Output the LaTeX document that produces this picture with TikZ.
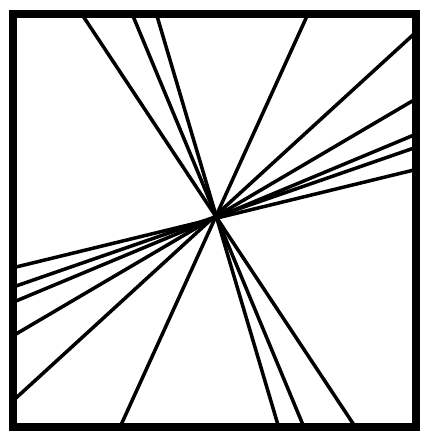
\documentclass[tikz,border=0pt]{standalone}
\usetikzlibrary{positioning}

\begin{document}
\begin{tikzpicture}[x=0.02cm, y=-0.02cm,
    frame/.style={draw=black, line width=5pt, line join=miter},
    ray/.style={draw=black, line width=2pt}]
  \useasboundingbox (0,0) rectangle (422,432);

  % end points on the frame
  \coordinate (t1) at (83,16);
  \coordinate (t2) at (133,16);
  \coordinate (t3) at (157,16);
  \coordinate (t4) at (307,16);
  \coordinate (b1) at (354,425);
  \coordinate (b2) at (303,425);
  \coordinate (b3) at (278,425);
  \coordinate (b4) at (121,425);
  \coordinate (r1) at (414,34);
  \coordinate (r2) at (414,100);
  \coordinate (r3) at (414,135);
  \coordinate (r4) at (414,148);
  \coordinate (r5) at (414,170);
  \coordinate (l1) at (16,398);
  \coordinate (l2) at (16,334);
  \coordinate (l3) at (16,301);
  \coordinate (l4) at (16,286);
  \coordinate (l5) at (16,267);

  \draw[ray] (t1) -- (b1);
  \draw[ray] (t2) -- (b2);
  \draw[ray] (t3) -- (b3);
  \draw[ray] (t4) -- (b4);
  \draw[ray] (r1) -- (l1);
  \draw[ray] (r2) -- (l2);
  \draw[ray] (r3) -- (l3);
  \draw[ray] (r4) -- (l4);
  \draw[ray] (r5) -- (l5);

  \draw[frame] (13,14) rectangle (416,427);
\end{tikzpicture}
\end{document}
